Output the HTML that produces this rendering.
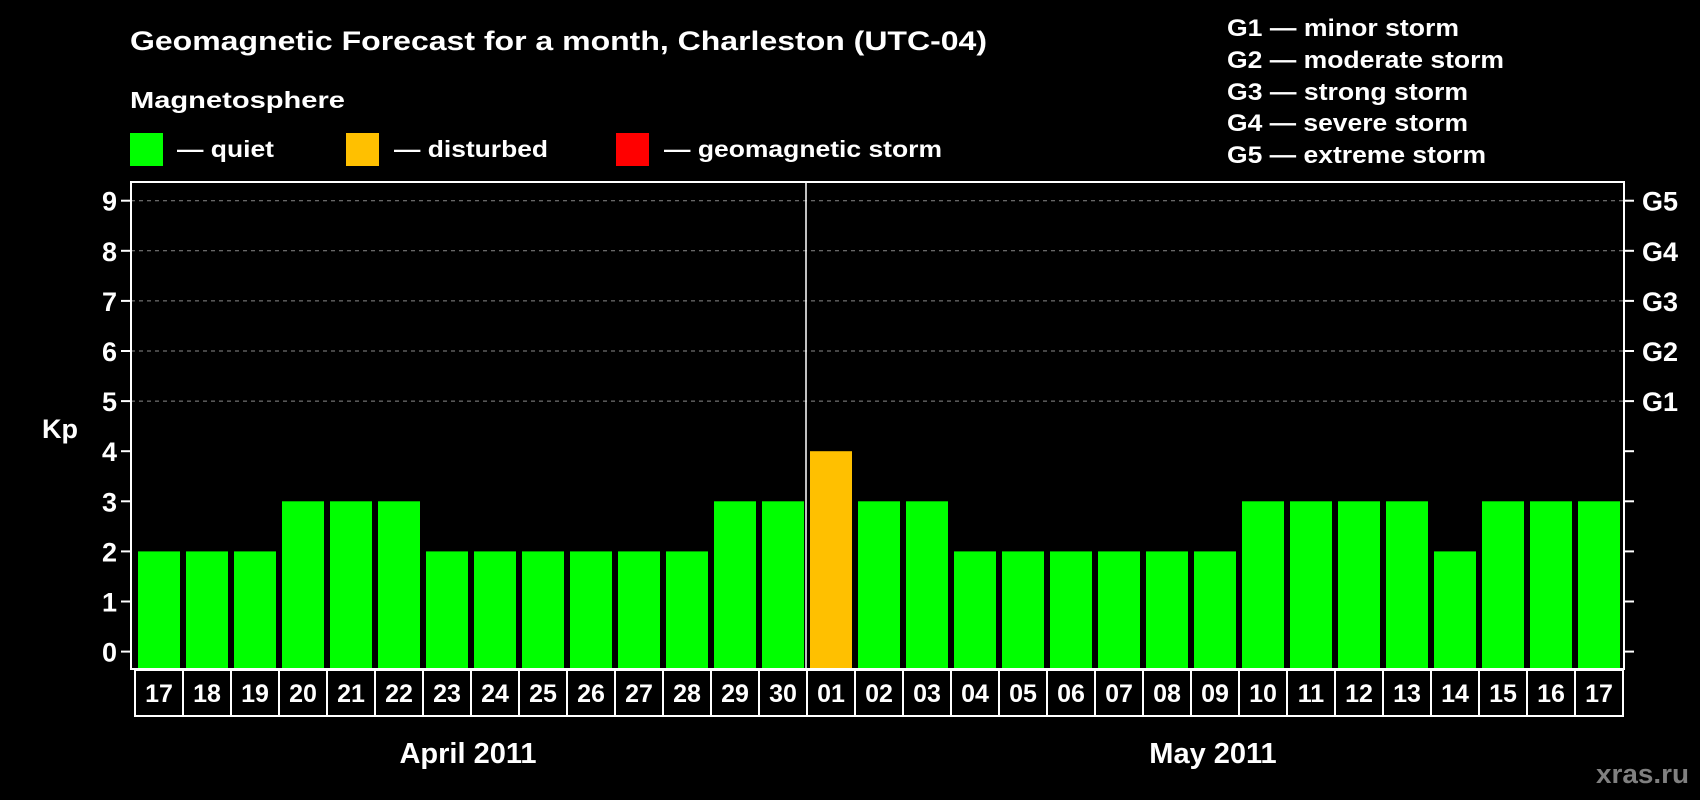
<!DOCTYPE html>
<html><head><meta charset="utf-8"><style>
html,body{margin:0;padding:0;background:#000;width:1700px;height:800px;overflow:hidden}
svg{display:block;font-family:"Liberation Sans",Arial,sans-serif;font-weight:bold}
</style></head><body>
<svg id="chart" width="1700" height="800" viewBox="0 0 1700 800">
<rect x="0" y="0" width="1700" height="800" fill="#000"/>
<text x="130" y="50" font-size="27" fill="#fff" textLength="857" lengthAdjust="spacingAndGlyphs">Geomagnetic Forecast for a month, Charleston (UTC-04)</text>
<text x="130" y="108" font-size="23" fill="#fff" textLength="215" lengthAdjust="spacingAndGlyphs">Magnetosphere</text>
<g>
<rect x="130" y="133" width="33" height="33" fill="#00ff00"/>
<text x="177" y="157" font-size="23" fill="#fff" textLength="97" lengthAdjust="spacingAndGlyphs">— quiet</text>
</g>
<g>
<rect x="346" y="133" width="33" height="33" fill="#ffc000"/>
<text x="394" y="157" font-size="23" fill="#fff" textLength="154" lengthAdjust="spacingAndGlyphs">— disturbed</text>
</g>
<g>
<rect x="616" y="133" width="33" height="33" fill="#ff0000"/>
<text x="664" y="157" font-size="23" fill="#fff" textLength="278" lengthAdjust="spacingAndGlyphs">— geomagnetic storm</text>
</g>
<g font-size="24" fill="#fff">
<text x="1227" y="36" textLength="232" lengthAdjust="spacingAndGlyphs">G1 — minor storm</text>
<text x="1227" y="68" textLength="277" lengthAdjust="spacingAndGlyphs">G2 — moderate storm</text>
<text x="1227" y="100" textLength="241" lengthAdjust="spacingAndGlyphs">G3 — strong storm</text>
<text x="1227" y="131" textLength="241" lengthAdjust="spacingAndGlyphs">G4 — severe storm</text>
<text x="1227" y="163" textLength="259" lengthAdjust="spacingAndGlyphs">G5 — extreme storm</text>
</g>
<text x="42" y="438" font-size="27" fill="#fff">Kp</text>
<g id="grid"></g>
<g id="bars"></g>
<g id="axes"></g>
<g id="xlabels"></g>
<text x="468" y="763" font-size="29" fill="#fff" text-anchor="middle">April 2011</text>
<text x="1213" y="763" font-size="29" fill="#fff" text-anchor="middle">May 2011</text>
<text x="1596" y="783" font-size="27" fill="#808080" textLength="93" lengthAdjust="spacingAndGlyphs">xras.ru</text>
</svg>
<script>
const days = ["17","18","19","20","21","22","23","24","25","26","27","28","29","30","01","02","03","04","05","06","07","08","09","10","11","12","13","14","15","16","17"];
const kpValues = [2,2,2,3,3,3,2,2,2,2,2,2,3,3,4,3,3,2,2,2,2,2,2,3,3,3,3,2,3,3,3];
const yTicks = [0,1,2,3,4,5,6,7,8,9];
const gLabels = ["","","","","","G1","G2","G3","G4","G5"];

const NS = "http://www.w3.org/2000/svg";
const plotL = 131, plotR = 1624, plotT = 182, plotB = 669;
const slot0 = 135, slotW = 48;
const y0 = 651.6, unit = 50.1;
function yScale(v){ return y0 - v*unit; }
function xScale(i){ return slot0 + i*slotW; }
function mk(tag, attrs, parent){ const e = document.createElementNS(NS, tag); for (const k in attrs) e.setAttribute(k, attrs[k]); parent.appendChild(e); return e; }

const grid = document.getElementById('grid');
const bars = document.getElementById('bars');
const axes = document.getElementById('axes');
const xl = document.getElementById('xlabels');

yTicks.forEach((t, i) => {
  const y = yScale(t);
  if (t >= 5) {
    const gl = mk('line', {x1: plotL, x2: plotR, y1: y, y2: y, stroke: '#8a8a8a', 'stroke-width': 1, 'stroke-dasharray': '4,4'}, grid);
    
    
  }
  const lt = mk('line', {x1: plotL - 10, x2: plotL, y1: y, y2: y, stroke: '#fff', 'stroke-width': 2}, axes);
  
  
  const rt = mk('line', {x1: plotR, x2: plotR + 10, y1: y, y2: y, stroke: '#fff', 'stroke-width': 2}, axes);
  
  
  const tl = mk('text', {x: 117, y: y + 10, 'font-size': 27, fill: '#fff', 'text-anchor': 'end'}, axes);
  tl.textContent = t;
  
  
  if (gLabels[i]) {
    const gt = mk('text', {x: 1642, y: y + 10, 'font-size': 27, fill: '#fff'}, axes);
    gt.textContent = gLabels[i];
    
    
  }
});

kpValues.forEach((v, i) => {
  const color = v >= 5 ? '#ff0000' : (v >= 4 ? '#ffc000' : '#00ff00');
  const b = mk('rect', {x: xScale(i) + 3, y: yScale(v), width: 42, height: (plotB - 1) - yScale(v), fill: color}, bars);
  
  
});

const frame = mk('rect', {x: plotL, y: plotT, width: plotR - plotL, height: plotB - plotT, fill: 'none', stroke: '#fff', 'stroke-width': 2}, axes);


const div = mk('line', {x1: xScale(14) - 1, x2: xScale(14) - 1, y1: plotT, y2: plotB, stroke: '#fff', 'stroke-width': 1.5}, axes);



days.forEach((d, i) => {
  const r = mk('rect', {x: xScale(i), y: 670, width: slotW, height: 46, fill: 'none', stroke: '#fff', 'stroke-width': 2}, xl);
  
  
  const t = mk('text', {x: xScale(i) + slotW/2, y: 702, 'font-size': 25, fill: '#fff', 'text-anchor': 'middle'}, xl);
  t.textContent = d;
  
  
});
</script>
</body></html>
